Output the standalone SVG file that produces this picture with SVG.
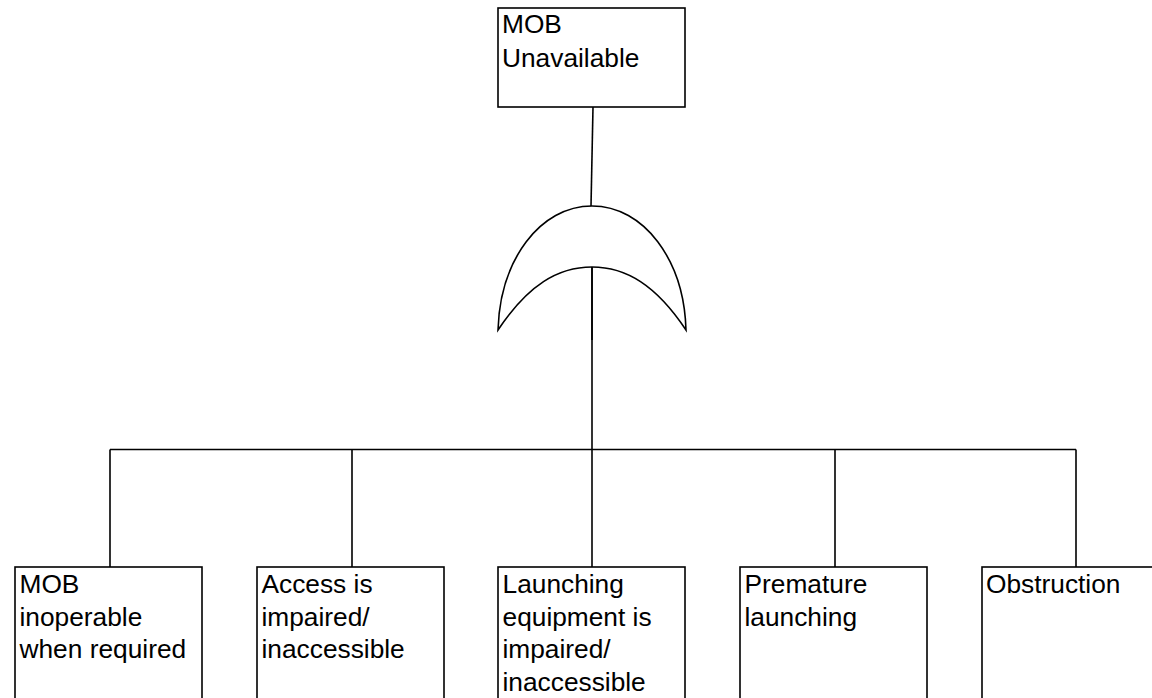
<svg xmlns="http://www.w3.org/2000/svg" width="1152" height="698" viewBox="0 0 1152 698">
<style>
.box{fill:#fff;stroke:#000;stroke-width:1.6}
.wire{fill:none;stroke:#000;stroke-width:1.6}
.gate{fill:#fff;stroke:#000;stroke-width:1.6}
text{font-family:"Liberation Sans",Arial,sans-serif;font-size:26.3px;fill:#000}
</style>
<rect width="1152" height="698" fill="#fff"/>
<g id="connectors">
<path class="wire" d="M593,107 L591,206"/>
<path class="wire" d="M592,267 L592,567"/>
<path class="wire" d="M110,449.5 L1076,449.5"/>
<path class="wire" d="M110,449.5 L110,567 M352,449.5 L352,567 M835,449.5 L835,567 M1076,449.5 L1076,567"/>
</g>
<g id="top-event">
<rect class="box" x="498" y="8" width="187" height="99"/>
<text x="502" y="33">MOB</text>
<text x="502" y="66.5">Unavailable</text>
</g>
<g id="or-gate">
<path class="gate" d="M498,330 C500,260 540,206 592,206 C644,206 684,260 686,330 C656,285 626,267 592,267 C558,267 528,285 498,330 Z"/>
<path class="wire" d="M592,267 L592,340"/>
</g>
<g id="mob-inoperable">
<rect class="box" x="15" y="567" width="187" height="160"/>
<text x="19.5" y="593">MOB</text>
<text x="19.5" y="625.5">inoperable</text>
<text x="19.5" y="658">when required</text>
</g>
<g id="access-impaired">
<rect class="box" x="257" y="567" width="187" height="160"/>
<text x="261.5" y="593">Access is</text>
<text x="261.5" y="625.5">impaired/</text>
<text x="261.5" y="658">inaccessible</text>
</g>
<g id="launching-equipment">
<rect class="box" x="498" y="567" width="187" height="160"/>
<text x="502.5" y="593">Launching</text>
<text x="502.5" y="625.5">equipment is</text>
<text x="502.5" y="658">impaired/</text>
<text x="502.5" y="690.5">inaccessible</text>
</g>
<g id="premature-launching">
<rect class="box" x="740" y="567" width="187" height="160"/>
<text x="744.5" y="593">Premature</text>
<text x="744.5" y="625.5">launching</text>
</g>
<g id="obstruction">
<rect class="box" x="982" y="567" width="187" height="160"/>
<text x="986" y="593">Obstruction</text>
</g>
</svg>
